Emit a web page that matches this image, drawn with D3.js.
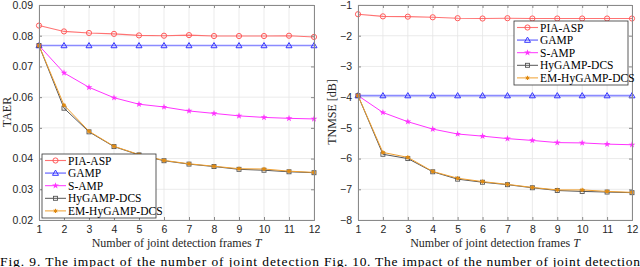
<!DOCTYPE html>
<html>
<head>
<meta charset="utf-8">
<script src="https://cdn.jsdelivr.net/npm/d3@7"></script>
<style>
  body { margin: 0; background: #fff; }
  svg { display: block; }
  .tk text { font-family: "Liberation Sans", Arial, sans-serif; font-size: 10.5px; fill: #262626; }
  .sf { font-family: "Liberation Serif", "Times New Roman", serif; }
</style>
</head>
<body>
<svg id="chart" width="640" height="267"></svg>
<script>
// frames T on the x axis
const frames = [1, 2, 3, 4, 5, 6, 7, 8, 9, 10, 11, 12];
const seriesNames = ["PIA-ASP", "GAMP", "S-AMP", "HyGAMP-DCS", "EM-HyGAMP-DCS"];

// Fig. 9: TAER
const taerPIA = [0.0833, 0.0814, 0.0809, 0.0806, 0.0801, 0.0800, 0.0802, 0.0799, 0.0799, 0.0799, 0.0800, 0.0796];
const taerGAMP = [0.0768, 0.0768, 0.0768, 0.0768, 0.0768, 0.0768, 0.0768, 0.0768, 0.0768, 0.0768, 0.0768, 0.0768];
const taerSAMP = [0.0768, 0.0679, 0.0632, 0.0598, 0.0577, 0.0568, 0.0555, 0.0547, 0.0539, 0.0534, 0.0531, 0.0529];
const taerHy = [0.0768, 0.0564, 0.0487, 0.0439, 0.0412, 0.0393, 0.0382, 0.0374, 0.0365, 0.0362, 0.0357, 0.0354];
const taerEM = [0.0768, 0.0574, 0.0489, 0.0440, 0.0413, 0.0394, 0.0383, 0.0375, 0.0367, 0.0366, 0.0359, 0.0355];
const taerTicks = [0.02, 0.03, 0.04, 0.05, 0.06, 0.07, 0.08, 0.09];

// Fig. 10: TNMSE [dB]
const nmsePIA = [-1.30, -1.37, -1.38, -1.40, -1.43, -1.44, -1.43, -1.44, -1.44, -1.44, -1.44, -1.44];
const nmseGAMP = [-3.95, -3.95, -3.95, -3.95, -3.95, -3.95, -3.95, -3.95, -3.95, -3.95, -3.95, -3.95];
const nmseSAMP = [-3.95, -4.50, -4.80, -5.04, -5.20, -5.27, -5.35, -5.41, -5.48, -5.49, -5.53, -5.55];
const nmseHy = [-3.95, -5.86, -6.00, -6.43, -6.67, -6.77, -6.85, -6.95, -7.04, -7.07, -7.09, -7.11];
const nmseEM = [-3.95, -5.80, -5.96, -6.42, -6.64, -6.75, -6.84, -6.94, -7.02, -7.02, -7.07, -7.10];
const nmseTicks = [-8, -7, -6, -5, -4, -3, -2, -1];

const styles = [
  { color: "#ff5a5a", symbol: "circle", width: 1.1, opacity: 0.85 },
  { color: "#5a5aff", symbol: "triangle", width: 1.6, opacity: 0.7 },
  { color: "#ff33ff", symbol: "star", width: 1, opacity: 1 },
  { color: "#555555", symbol: "square", width: 1, opacity: 1 },
  { color: "#f0a030", symbol: "dot", width: 1, opacity: 1 }
];

const svg = d3.select("#chart");

function marker(g, st, x, y) {
  if (st.symbol === "circle") {
    g.append("circle").attr("cx", x).attr("cy", y).attr("r", 2.6)
      .attr("fill", "none").attr("stroke", st.color).attr("stroke-width", 1);
  } else if (st.symbol === "triangle") {
    g.append("path").attr("transform", `translate(${x},${y})`)
      .attr("d", "M0,-3L3,2.2L-3,2.2Z")
      .attr("fill", "none").attr("stroke", "#3333ff").attr("stroke-width", 1);
  } else if (st.symbol === "star") {
    g.append("path").attr("transform", `translate(${x},${y})`)
      .attr("d", d3.symbol(d3.symbolStar, 14)())
      .attr("fill", st.color);
  } else if (st.symbol === "square") {
    g.append("rect").attr("x", x - 2).attr("y", y - 2).attr("width", 4).attr("height", 4)
      .attr("fill", "none").attr("stroke", st.color).attr("stroke-width", 0.9);
  } else {
    g.append("path").attr("transform", `translate(${x},${y})`)
      .attr("d", d3.symbol(d3.symbolAsterisk, 12)())
      .attr("fill", "none").attr("stroke", "#e08a10").attr("stroke-width", 1);
    g.append("circle").attr("cx", x).attr("cy", y).attr("r", 1.5).attr("fill", "#e08a10");
  }
}

function drawPanel(opt) {
  const x = d3.scaleLinear().domain([1, 12]).range([opt.left, opt.right]);
  const y = d3.scaleLinear().domain(opt.domain).range([220, 5]);
  const g = svg.append("g");

  // grid
  g.selectAll(".gx").data(frames).join("line")
    .attr("x1", d => x(d)).attr("x2", d => x(d)).attr("y1", 5).attr("y2", 220)
    .attr("stroke", "#e6e6e6").attr("stroke-width", 0.8);
  g.selectAll(".gy").data(opt.ticks).join("line")
    .attr("x1", opt.left).attr("x2", opt.right).attr("y1", d => y(d)).attr("y2", d => y(d))
    .attr("stroke", "#e6e6e6").attr("stroke-width", 0.8);

  // series
  opt.series.forEach((vals, i) => {
    const st = styles[i];
    const line = d3.line().x((d, j) => x(frames[j])).y(d => y(d));
    g.append("path").attr("d", line(vals)).attr("fill", "none")
      .attr("stroke", st.color).attr("stroke-width", st.width).attr("stroke-opacity", st.opacity);
    const mg = g.append("g");
    vals.forEach((v, j) => marker(mg, st, x(frames[j]), y(v)));
  });

  // axes with inward ticks
  const axB = d3.axisBottom(x).tickValues(frames).tickSize(-3).tickPadding(5.5);
  const axT = d3.axisTop(x).tickValues(frames).tickSize(-3).tickFormat("");
  const axL = d3.axisLeft(y).tickValues(opt.ticks).tickSize(-3).tickPadding(6).tickFormat(opt.fmt);
  const axR = d3.axisRight(y).tickValues(opt.ticks).tickSize(-3).tickFormat("");
  [[axB, `translate(0,220)`], [axT, `translate(0,5)`], [axL, `translate(${opt.left},0)`], [axR, `translate(${opt.right},0)`]]
    .forEach(([ax, tr]) => {
      const a = g.append("g").attr("class", "tk").attr("transform", tr).call(ax);
      a.attr("font-family", null).attr("font-size", null);
      a.select(".domain").attr("stroke", "#8a8a8a").attr("stroke-width", 1);
      a.selectAll(".tick line").attr("stroke", "#8a8a8a");
    });

  // axis titles
  const tx = g.append("text").attr("class", "sf").attr("x", (opt.left + opt.right) / 2).attr("y", 246.5)
    .attr("text-anchor", "middle").style("font-size", "12px").attr("fill", "#262626");
  tx.append("tspan").text("Number of joint detection frames ");
  tx.append("tspan").attr("font-style", "italic").text("T");
  g.append("text").attr("class", "sf").attr("transform", `translate(${opt.ytx},112) rotate(-90)`)
    .attr("text-anchor", "middle").style("font-size", "12px")
    .attr("fill", "#262626").text(opt.ytitle);

  // legend
  const lg = g.append("g").attr("transform", `translate(${opt.lx},${opt.ly})`);
  lg.append("rect").attr("width", 114).attr("height", 64).attr("fill", "#fff")
    .attr("stroke", "#333").attr("stroke-width", 0.8);
  seriesNames.forEach((name, i) => {
    const st = styles[i];
    const yy = 6.5 + i * 12.6;
    lg.append("line").attr("x1", 3).attr("x2", 24).attr("y1", yy).attr("y2", yy)
      .attr("stroke", st.color).attr("stroke-width", st.width).attr("stroke-opacity", st.opacity);
    marker(lg, st, 13.5, yy);
    lg.append("text").attr("class", "sf").attr("x", 26).attr("y", yy + 4)
      .style("font-size", "11.5px").attr("fill", "#000").text(name);
  });
}

drawPanel({
  left: 39, right: 314, domain: [0.02, 0.09], ticks: taerTicks,
  fmt: d3.format(".2f"), ytitle: "TAER", ytx: 11,
  series: [taerPIA, taerGAMP, taerSAMP, taerHy, taerEM], lx: 42, ly: 154
});
drawPanel({
  left: 358, right: 632, domain: [-8, -1], ticks: nmseTicks,
  fmt: d3.format("d"), ytitle: "TNMSE [dB]", ytx: 336,
  series: [nmsePIA, nmseGAMP, nmseSAMP, nmseHy, nmseEM], lx: 514, ly: 21
});

// captions (the image bottom cuts their descenders)
svg.append("text").attr("class", "sf").attr("x", 0).attr("y", 265.5).style("font-size", "13.5px")
  .attr("textLength", 319).attr("lengthAdjust", "spacing")
  .text("Fig. 9.   The impact of the number of joint detection");
svg.append("text").attr("class", "sf").attr("x", 324).attr("y", 265.5).style("font-size", "13.5px")
  .attr("textLength", 316).attr("lengthAdjust", "spacing")
  .text("Fig. 10.   The impact of the number of joint detection");
</script>
</body>
</html>
